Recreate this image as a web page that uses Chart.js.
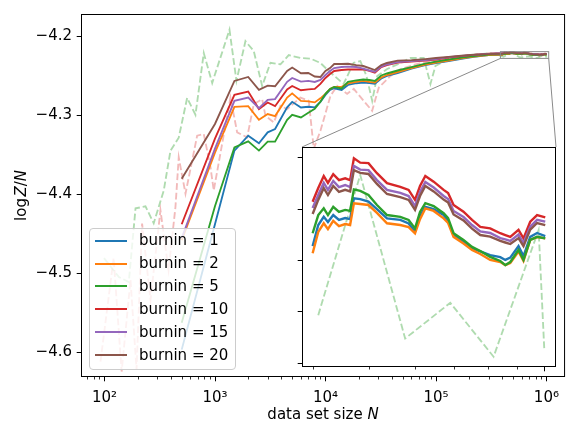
<!DOCTYPE html>
<html>
<head>
<meta charset="utf-8">
<script src="https://cdn.jsdelivr.net/npm/chart.js@4.4.1/dist/chart.umd.min.js"></script>
<style>
  html, body { margin: 0; padding: 0; background: #fff; }
  #wrap { position: relative; width: 567px; height: 425px; font-family: "DejaVu Sans", sans-serif; }
  #main, #inset { position: absolute; }
  #legend { position: absolute; box-sizing: border-box; border: 1px solid #cccccc; border-radius: 4px;
            background: rgba(255,255,255,0.8); }
  .row { position: absolute; left: 0; width: 100%; height: 22.86px; line-height: 22.86px;
         font-size: 15px; color: #000; white-space: nowrap; }
  .swatch { position: absolute; left: 5px; top: 10.4px; width: 32px; height: 2px; }
  .lbl { position: absolute; left: 49px; }
</style>
</head>
<body>
<div id="wrap">
  <canvas id="main" width="567" height="425"></canvas>
  <canvas id="inset"></canvas>
  <div id="legend"></div>
</div>
<script>
// ---- data ----
const BURNIN = [1, 2, 5, 10, 15, 20];
const COLORS = ['#1f77b4', '#ff7f0e', '#2ca02c', '#d62728', '#9467bd', '#8c564b'];

// data set sizes used for the main view
const N_MAIN = [500, 1000, 1500, 2000, 2500, 3000, 3500, 4500, 5000, 6000, 7000, 8000, 9000, 10000,
  11000, 12000, 14000, 16000, 19000, 22000, 25000, 28000, 32000, 36000, 45000, 60000, 80000,
  100000, 130000, 170000, 220000, 300000, 350000];
const b1 = [-4.5972, -4.4383, -4.3450, -4.3261, -4.3358, -4.3219, -4.3177, -4.2902, -4.2832, -4.2904,
  -4.2895, -4.2902, -4.2832, -4.2744, -4.2681, -4.2660, -4.2681, -4.2618, -4.2596, -4.2589, -4.2593,
  -4.2602, -4.2536, -4.2504, -4.2467, -4.2410, -4.2366, -4.2340, -4.2315, -4.2286, -4.2262, -4.2239, -4.2235];
const b2 = [-4.4585, -4.3475, -4.2895, -4.2887, -4.3059, -4.2987, -4.3013, -4.2778, -4.2725, -4.2820,
  -4.2826, -4.2839, -4.2788, -4.2731, -4.2668, -4.2643, -4.2643, -4.2599, -4.2580, -4.2567, -4.2580,
  -4.2589, -4.2523, -4.2492, -4.2454, -4.2404, -4.2359, -4.2334, -4.2309, -4.2281, -4.2259, -4.2240, -4.2236];
const b5 = [-4.5632, -4.4156, -4.3409, -4.3333, -4.3450, -4.3337, -4.3337, -4.3059, -4.2996, -4.3030,
  -4.2971, -4.2921, -4.2832, -4.2731, -4.2668, -4.2643, -4.2662, -4.2580, -4.2561, -4.2549, -4.2555,
  -4.2567, -4.2498, -4.2473, -4.2435, -4.2391, -4.2347, -4.2322, -4.2296, -4.2271, -4.2252, -4.2234, -4.2231];
const b10 = [-4.4383, -4.3299, -4.2744, -4.2702, -4.2924, -4.2841, -4.2887, -4.2675, -4.2631, -4.2685,
  -4.2675, -4.2668, -4.2605, -4.2530, -4.2479, -4.2441, -4.2429, -4.2422, -4.2420, -4.2422, -4.2441,
  -4.2463, -4.2391, -4.2366, -4.2334, -4.2322, -4.2309, -4.2296, -4.2270, -4.2253, -4.2236, -4.2222, -4.2218];
const b15 = [-4.4560, -4.3425, -4.2820, -4.2778, -4.2912, -4.2807, -4.2798, -4.2578, -4.2530, -4.2576,
  -4.2567, -4.2580, -4.2555, -4.2492, -4.2441, -4.2404, -4.2391, -4.2385, -4.2391, -4.2410, -4.2435,
  -4.2450, -4.2385, -4.2359, -4.2328, -4.2315, -4.2303, -4.2290, -4.2265, -4.2250, -4.2236, -4.2224, -4.2220];
const b20 = [-4.3807, -4.3113, -4.2567, -4.2517, -4.2681, -4.2627, -4.2634, -4.2440, -4.2397, -4.2470,
  -4.2467, -4.2511, -4.2517, -4.2441, -4.2404, -4.2353, -4.2353, -4.2349, -4.2366, -4.2378, -4.2404,
  -4.2429, -4.2366, -4.2340, -4.2309, -4.2303, -4.2290, -4.2277, -4.2262, -4.2248, -4.2236, -4.2227, -4.2223];

// the zoomed tail (also shown in the inset)
const N_TAIL = [400000, 409000, 418000, 425000, 434000, 444000, 455000, 464000, 471000, 483000, 499000,
  516000, 537000, 566000, 585000, 600000, 612000, 625000, 646000, 672000, 684000, 699000, 727000,
  752000, 777000, 808000, 841000, 858000, 875000, 904000, 922000, 947000, 973000, 1005000];
const b1Tail = [-4.22346, -4.22264, -4.22232, -4.22252, -4.22225, -4.22244, -4.22237, -4.22241, -4.22160,
  -4.22163, -4.22173, -4.22202, -4.22238, -4.22244, -4.22258, -4.22290, -4.22229, -4.22193, -4.22202,
  -4.22225, -4.22248, -4.22303, -4.22330, -4.22355, -4.22367, -4.22381, -4.22389, -4.22400, -4.22391,
  -4.22346, -4.22385, -4.22310, -4.22295, -4.22307];
const b2Tail = [-4.22374, -4.22291, -4.22257, -4.22280, -4.22248, -4.22268, -4.22260, -4.22264, -4.22179,
  -4.22182, -4.22186, -4.22217, -4.22257, -4.22264, -4.22272, -4.22296, -4.22241, -4.22199, -4.22209,
  -4.22238, -4.22256, -4.22310, -4.22336, -4.22361, -4.22377, -4.22400, -4.22408, -4.22420, -4.22412,
  -4.22367, -4.22404, -4.22322, -4.22311, -4.22316];
const b5Tail = [-4.22296, -4.22225, -4.22199, -4.22225, -4.22193, -4.22213, -4.22205, -4.22209, -4.22125,
  -4.22131, -4.22147, -4.22186, -4.22225, -4.22232, -4.22244, -4.22277, -4.22213, -4.22179, -4.22190,
  -4.22218, -4.22237, -4.22296, -4.22322, -4.22349, -4.22365, -4.22388, -4.22404, -4.22420, -4.22408,
  -4.22361, -4.22400, -4.22322, -4.22310, -4.22316];
const b10Tail = [-4.22173, -4.22120, -4.22073, -4.22100, -4.22066, -4.22089, -4.22082, -4.22089, -4.22004,
  -4.22021, -4.22023, -4.22062, -4.22101, -4.22115, -4.22127, -4.22166, -4.22112, -4.22073, -4.22095,
  -4.22127, -4.22139, -4.22186, -4.22212, -4.22244, -4.22271, -4.22277, -4.22296, -4.22303, -4.22310,
  -4.22283, -4.22316, -4.22251, -4.22225, -4.22234];
const b15Tail = [-4.22198, -4.22147, -4.22100, -4.22127, -4.22092, -4.22116, -4.22108, -4.22116, -4.22034,
  -4.22048, -4.22050, -4.22089, -4.22127, -4.22139, -4.22151, -4.22190, -4.22135, -4.22096, -4.22118,
  -4.22151, -4.22163, -4.22209, -4.22233, -4.22264, -4.22289, -4.22295, -4.22315, -4.22320, -4.22326,
  -4.22301, -4.22334, -4.22270, -4.22244, -4.22251];
const b20Tail = [-4.22221, -4.22166, -4.22120, -4.22147, -4.22112, -4.22135, -4.22127, -4.22133, -4.22050,
  -4.22061, -4.22065, -4.22104, -4.22143, -4.22155, -4.22166, -4.22205, -4.22151, -4.22112, -4.22133,
  -4.22165, -4.22176, -4.22223, -4.22246, -4.22278, -4.22303, -4.22309, -4.22326, -4.22332, -4.22338,
  -4.22315, -4.22346, -4.22282, -4.22256, -4.22264];

// faint dashed references
const N_GREEN_DASH = [99, 135, 166, 191, 235, 279, 344, 396, 470, 560, 666, 792, 944, 1353, 1565, 1888,
  2245, 2674, 3179, 3915, 4655, 5939, 7317, 9013, 10700, 14600, 18000, 20700, 23500, 26500, 29400,
  36200, 47700, 58800, 77600, 89200, 99000, 135000, 205000, 311000];
const GREEN_DASH = [-4.4812, -4.5052, -4.5115, -4.4182, -4.4156, -4.4371, -4.3955, -4.3450, -4.3286,
  -4.2782, -4.2996, -4.2214, -4.2593, -4.1918, -4.2567, -4.2063, -4.2189, -4.2631, -4.2337, -4.2357,
  -4.2240, -4.2277, -4.2284, -4.2340, -4.2441, -4.2605, -4.2337, -4.2315, -4.2504, -4.2820, -4.2504,
  -4.2416, -4.2340, -4.2277, -4.2277, -4.2605, -4.2378, -4.2277, -4.2240, -4.2214];
const N_GREEN_DASH_TAIL = [409000, 483000, 577000, 690000, 819000, 979000, 1001000];
const GREEN_DASH_TAIL = [-4.22615, -4.22069, -4.22706, -4.22567, -4.22777, -4.22283, -4.22745];
const N_PINK_DASH = [92, 121, 143, 172, 195, 219, 261, 321, 380, 439, 470, 541, 690, 792, 911, 975, 1381,
  1588, 1956, 2245, 2674, 2864, 3405, 3915, 4503, 5939, 7063, 7839, 9013, 11100, 12760, 15720, 18040,
  22220, 26460, 30370, 38740, 47720, 72390, 135300, 252700];
const PINK_DASH = [-4.6124, -4.4812, -4.6250, -4.5089, -4.6224, -4.4375, -4.5342, -4.4207, -4.4963,
  -4.4165, -4.3535, -4.3996, -4.3261, -4.3240, -4.3661, -4.3955, -4.2778, -4.3219, -4.3282, -4.2861,
  -4.2798, -4.3009, -4.3093, -4.2883, -4.2924, -4.2778, -4.2820, -4.3425, -4.3198, -4.2757, -4.2631,
  -4.2731, -4.2668, -4.2820, -4.2946, -4.2652, -4.2504, -4.2416, -4.2340, -4.2277, -4.2227];

// axes
const X_RANGE = [61.3, 1.475e6];
const Y_RANGE = [-4.6319, -4.1719];
const X_MAJOR = [1e2, 1e3, 1e4, 1e5, 1e6];
const X_MAJOR_LABELS = ['10²', '10³', '10⁴', '10⁵', '10⁶'];
const Y_TICKS = [-4.6, -4.5, -4.4, -4.3, -4.2];
const INSET_X = [383500, 1048700];
const INSET_Y = [-4.22817, -4.2196];
const INSET_X_TICKS = [4e5, 5e5, 6e5, 7e5, 8e5, 9e5, 1e6];
const INSET_Y_TICKS = [-4.228, -4.226, -4.224, -4.222, -4.220];

const MAIN_SERIES = [b1, b2, b5, b10, b15, b20];
const TAIL_SERIES = [b1Tail, b2Tail, b5Tail, b10Tail, b15Tail, b20Tail];

// ---- layout ----
const FONT = '"DejaVu Sans"';
const INSET_BOX = { left: 302, top: 147, right: 556, bottom: 367 };
const INSET_CANVAS = { left: 290, top: 140, width: 272, height: 236 };
const LEGEND_BOX = { left: 89, top: 228, width: 147, height: 142 };

Chart.defaults.font.family = FONT;
Chart.defaults.font.size = 15;
Chart.defaults.color = '#000';

const xMinor = [];
for (let d = 10; d <= 1e6; d *= 10) {
  for (let k = 2; k <= 9; k++) {
    const v = k * d;
    if (v > X_RANGE[0] && v < X_RANGE[1]) xMinor.push(v);
  }
}
const xTicks = X_MAJOR.concat(xMinor).sort((a, b) => a - b);

const pts = (xs, ys) => xs.map((x, k) => ({ x: x, y: ys[k] }));

function solid(i, xs, ys, w) {
  return {
    label: 'burnin = ' + BURNIN[i],
    data: pts(xs, ys),
    borderColor: COLORS[i],
    borderWidth: w || 1.85,
    pointRadius: 0,
    tension: 0,
    fill: false,
    order: 10 - i
  };
}
function dashed(color, xs, ys) {
  return {
    label: '',
    data: pts(xs, ys),
    borderColor: color,
    borderWidth: 1.85,
    borderDash: [6.8, 2.9],
    pointRadius: 0,
    tension: 0,
    fill: false,
    order: 20
  };
}
const GREEN_FAINT = 'rgba(44,160,44,0.38)';
const PINK_FAINT = 'rgba(214,39,40,0.32)';

// ticks, spines
const tickMarks = {
  id: 'tickMarks',
  afterDraw(chart, args, o) {
    const { ctx, chartArea: a } = chart;
    const xs = chart.scales.x, ys = chart.scales.y;
    ctx.save();
    ctx.strokeStyle = '#000';
    xs.ticks.forEach(t => {
      const major = o.xMajor.includes(t.value);
      const px = Math.round(xs.getPixelForValue(t.value)) + 0.5;
      ctx.lineWidth = major ? 1 : 0.8;
      ctx.beginPath();
      ctx.moveTo(px, a.bottom);
      ctx.lineTo(px, a.bottom + (major ? 4.3 : 2.5));
      ctx.stroke();
    });
    ys.ticks.forEach(t => {
      const py = Math.round(ys.getPixelForValue(t.value)) + 0.5;
      ctx.lineWidth = 1;
      ctx.beginPath();
      ctx.moveTo(a.left, py);
      ctx.lineTo(a.left - 4.3, py);
      ctx.stroke();
    });
    ctx.lineWidth = 1;
    ctx.strokeRect(a.left + 0.5, a.top + 0.5, a.width - 1, a.height - 1);
    ctx.restore();
  }
};

// zoom rectangle + connectors, axis titles
const insetMarks = {
  id: 'insetMarks',
  afterDatasetsDraw(chart) {
    const { ctx } = chart;
    const xs = chart.scales.x, ys = chart.scales.y;
    const x0 = xs.getPixelForValue(INSET_X[0]), x1 = xs.getPixelForValue(INSET_X[1]);
    const yT = ys.getPixelForValue(INSET_Y[1]), yB = ys.getPixelForValue(INSET_Y[0]);
    ctx.save();
    ctx.strokeStyle = '#8a8a8a';
    ctx.lineWidth = 1;
    ctx.strokeRect(x0, yT, x1 - x0, yB - yT);
    ctx.beginPath();
    ctx.moveTo(x0, yB); ctx.lineTo(INSET_BOX.left, INSET_BOX.top);
    ctx.moveTo(x1, yB); ctx.lineTo(INSET_BOX.right, INSET_BOX.top);
    ctx.stroke();
    ctx.restore();
  },
  afterDraw(chart) {
    const { ctx, chartArea: a } = chart;
    const drawParts = (parts) => {
      let w = 0;
      parts.forEach(p => { ctx.font = p[1] + ' 15px ' + FONT; w += ctx.measureText(p[0]).width + (p[2] || 0); });
      let x = -w / 2;
      parts.forEach(p => {
        ctx.font = p[1] + ' 15px ' + FONT;
        ctx.fillText(p[0], x, 0);
        x += ctx.measureText(p[0]).width + (p[2] || 0);
      });
    };
    ctx.save();
    ctx.fillStyle = '#000';
    ctx.textBaseline = 'alphabetic';
    ctx.textAlign = 'left';
    ctx.save();
    ctx.translate((a.left + a.right) / 2, 419);
    drawParts([['data set size ', 'normal'], ['N', 'italic']]);
    ctx.restore();
    ctx.save();
    ctx.translate(25.5, (a.top + a.bottom) / 2);
    ctx.rotate(-Math.PI / 2);
    drawParts([['log', 'normal', 1.5], ['Z', 'italic'], ['/', 'normal'], ['N', 'italic']]);
    ctx.restore();
    ctx.restore();
  }
};

const mainDatasets = [
  dashed(GREEN_FAINT, N_GREEN_DASH.concat(N_GREEN_DASH_TAIL), GREEN_DASH.concat(GREEN_DASH_TAIL)),
  dashed(PINK_FAINT, N_PINK_DASH, PINK_DASH)
].concat(BURNIN.map((b, i) => solid(i, N_MAIN.concat(N_TAIL), MAIN_SERIES[i].concat(TAIL_SERIES[i]))));

const hiddenGrid = { display: true, drawOnChartArea: false, drawTicks: true, tickLength: 4, color: 'rgba(0,0,0,0)' };

new Chart(document.getElementById('main'), {
  type: 'line',
  data: { datasets: mainDatasets },
  options: {
    responsive: false,
    animation: false,
    devicePixelRatio: 1,
    layout: { padding: { top: 12, right: 1, left: 0, bottom: 0 } },
    plugins: { legend: { display: false }, tooltip: { enabled: false }, tickMarks: { xMajor: X_MAJOR } },
    scales: {
      x: {
        type: 'logarithmic',
        min: X_RANGE[0], max: X_RANGE[1],
        afterBuildTicks: s => { s.ticks = xTicks.map(v => ({ value: v })); },
        afterFit: s => { s.height = 48; },
        grid: hiddenGrid,
        border: { display: false },
        ticks: {
          autoSkip: false, maxRotation: 0, minRotation: 0, padding: 8, color: '#000',
          font: { size: 15 },
          callback: v => { const k = X_MAJOR.indexOf(v); return k >= 0 ? X_MAJOR_LABELS[k] : ''; }
        }
      },
      y: {
        type: 'linear',
        min: Y_RANGE[0], max: Y_RANGE[1],
        afterBuildTicks: s => { s.ticks = Y_TICKS.map(v => ({ value: v })); },
        afterFit: s => { s.width = 81; },
        grid: hiddenGrid,
        border: { display: false },
        ticks: {
          padding: 5, color: '#000', font: { size: 15 },
          callback: v => v.toFixed(1).replace('-', '\u2212')
        }
      }
    }
  },
  plugins: [tickMarks, insetMarks]
});

// ---- inset ----
const insetCanvas = document.getElementById('inset');
insetCanvas.width = INSET_CANVAS.width;
insetCanvas.height = INSET_CANVAS.height;
insetCanvas.style.left = INSET_CANVAS.left + 'px';
insetCanvas.style.top = INSET_CANVAS.top + 'px';

const insetBg = {
  id: 'insetBg',
  beforeDatasetsDraw(chart) {
    const { ctx, chartArea: a } = chart;
    ctx.save();
    ctx.fillStyle = '#fff';
    ctx.fillRect(a.left, a.top, a.width, a.height);
    ctx.restore();
  }
};

const insetDatasets = [dashed(GREEN_FAINT, N_GREEN_DASH_TAIL, GREEN_DASH_TAIL)]
  .concat(BURNIN.map((b, i) => solid(i, N_TAIL, TAIL_SERIES[i], 2.4)));

new Chart(insetCanvas, {
  type: 'line',
  data: { datasets: insetDatasets },
  options: {
    responsive: false,
    animation: false,
    devicePixelRatio: 1,
    layout: { padding: { top: INSET_BOX.top - INSET_CANVAS.top,
                         right: INSET_CANVAS.left + INSET_CANVAS.width - INSET_BOX.right, left: 0, bottom: 0 } },
    plugins: { legend: { display: false }, tooltip: { enabled: false }, tickMarks: { xMajor: [1e6] } },
    scales: {
      x: {
        type: 'logarithmic',
        min: INSET_X[0], max: INSET_X[1],
        afterBuildTicks: s => { s.ticks = INSET_X_TICKS.map(v => ({ value: v })); },
        afterFit: s => { s.height = INSET_CANVAS.top + INSET_CANVAS.height - INSET_BOX.bottom; },
        grid: hiddenGrid,
        border: { display: false },
        ticks: { display: false }
      },
      y: {
        type: 'linear',
        min: INSET_Y[0], max: INSET_Y[1],
        afterBuildTicks: s => { s.ticks = INSET_Y_TICKS.map(v => ({ value: v })); },
        afterFit: s => { s.width = INSET_BOX.left - INSET_CANVAS.left; },
        grid: hiddenGrid,
        border: { display: false },
        ticks: { display: false }
      }
    }
  },
  plugins: [insetBg, tickMarks]
});

// ---- legend ----
const legend = document.getElementById('legend');
Object.assign(legend.style, {
  left: LEGEND_BOX.left + 'px', top: LEGEND_BOX.top + 'px',
  width: LEGEND_BOX.width + 'px', height: LEGEND_BOX.height + 'px'
});
BURNIN.forEach((b, i) => {
  const row = document.createElement('div');
  row.className = 'row';
  row.style.top = (0.3 + i * 22.86) + 'px';
  const sw = document.createElement('span');
  sw.className = 'swatch';
  sw.style.background = COLORS[i];
  const lb = document.createElement('span');
  lb.className = 'lbl';
  lb.textContent = 'burnin = ' + b;
  row.appendChild(sw);
  row.appendChild(lb);
  legend.appendChild(row);
});
</script>
</body>
</html>
